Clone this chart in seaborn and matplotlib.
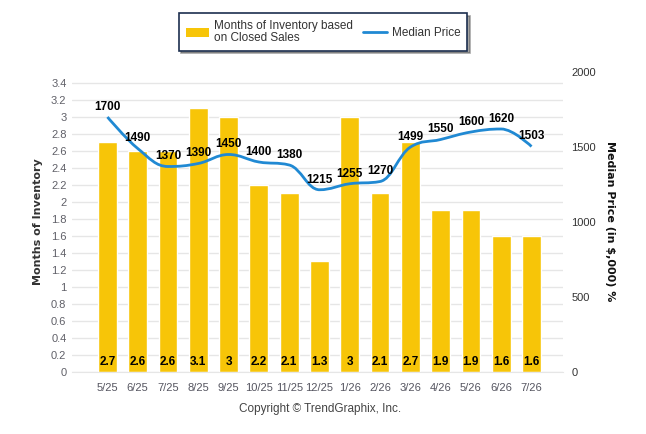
import numpy as np
import pandas as pd
import seaborn as sns
from matplotlib import pyplot as plt
from matplotlib.path import Path
from matplotlib.patches import PathPatch, Patch
from matplotlib.lines import Line2D

months = ["5/25", "6/25", "7/25", "8/25", "9/25", "10/25", "11/25", "12/25",
          "1/26", "2/26", "3/26", "4/26", "5/26", "6/26", "7/26"]
inventory = [2.7, 2.6, 2.6, 3.1, 3.0, 2.2, 2.1, 1.3, 3.0, 2.1, 2.7, 1.9, 1.9, 1.6, 1.6]
median_price = [1700, 1490, 1370, 1390, 1450, 1400, 1380, 1215, 1255, 1270,
                1499, 1550, 1600, 1620, 1503]
left_ticks = [0, 0.2, 0.4, 0.6, 0.8, 1, 1.2, 1.4, 1.6, 1.8, 2, 2.2, 2.4, 2.6, 2.8, 3, 3.2, 3.4]
right_ticks = [0, 500, 1000, 1500, 2000]

BAR = "#F7C508"
LINE = "#2089D3"
NARROW = ["Liberation Sans Narrow", "Liberation Sans", "DejaVu Sans"]
ARIAL = ["Liberation Sans", "DejaVu Sans"]


def fmt(v):
    return "{:g}".format(v)


def spline_path(xs, ys):
    # smooth curve through the points, same control point rule as highcharts
    n = len(xs)
    lc = [None] * n
    rc = [None] * n
    s, d = 1.5, 2.5
    for i in range(1, n - 1):
        x, y = xs[i], ys[i]
        px, py = xs[i - 1], ys[i - 1]
        nx, ny = xs[i + 1], ys[i + 1]
        lcx, lcy = (s * x + px) / d, (s * y + py) / d
        rcx, rcy = (s * x + nx) / d, (s * y + ny) / d
        corr = ((rcy - lcy) * (rcx - x)) / (rcx - lcx) + y - rcy
        lcy += corr
        rcy += corr
        if lcy > py and lcy > y:
            lcy = max(py, y)
            rcy = 2 * y - lcy
        elif lcy < py and lcy < y:
            lcy = min(py, y)
            rcy = 2 * y - lcy
        if rcy > ny and rcy > y:
            rcy = max(ny, y)
            lcy = 2 * y - rcy
        elif rcy < ny and rcy < y:
            rcy = min(ny, y)
            lcy = 2 * y - rcy
        lc[i] = (lcx, lcy)
        rc[i] = (rcx, rcy)
    verts = [(xs[0], ys[0])]
    codes = [Path.MOVETO]
    for i in range(1, n):
        verts += [rc[i - 1] or (xs[i - 1], ys[i - 1]), lc[i] or (xs[i], ys[i]), (xs[i], ys[i])]
        codes += [Path.CURVE4] * 3
    return Path(verts, codes)


df = pd.DataFrame({"month": months, "inventory": inventory, "price": median_price})
xpos = np.arange(len(months))

sns.set_style("white")
fig = plt.figure(figsize=(6.46, 4.34), dpi=100)
ax = fig.add_axes([72 / 646, 62 / 434, 491 / 646, 300 / 434])

sns.barplot(data=df, x="month", y="inventory", color=BAR, saturation=1,
            width=0.62, ax=ax, zorder=2)
ax.set_xlim(-1.17, 15.04)
ax.set_ylim(0, 3.525)
ax.set_yticks(left_ticks)
ax.set_yticklabels([fmt(t) for t in left_ticks], family=NARROW, fontsize=8, color="#606068")
ax.set_xticks(xpos)
ax.set_xticklabels(months, family=NARROW, fontsize=8, color="#555560")
ax.tick_params(axis="y", length=0, pad=4)
ax.tick_params(axis="x", length=3, width=0.8, color="#dddddd", pad=5)
ax.grid(axis="y", color="#e6e6e6", linewidth=1, zorder=0)
ax.set_axisbelow(True)
ax.set_xlabel("")
ax.set_ylabel("")
for sp in ["top", "right", "left"]:
    ax.spines[sp].set_visible(False)
ax.spines["bottom"].set_color("#e6e6e6")

for x, v in zip(xpos, inventory):
    ax.text(x, 0.12, fmt(v), ha="center", va="center", fontsize=8.5,
            fontweight="bold", family=ARIAL, color="black", zorder=5)

ax2 = ax.twinx()
ax2.set_ylim(0, 2000)
ax2.set_yticks(right_ticks)
ax2.set_yticklabels([str(t) for t in right_ticks], family=NARROW, fontsize=8, color="#333333")
ax2.tick_params(axis="y", length=0, pad=6)
for sp in ax2.spines.values():
    sp.set_visible(False)
ax2.add_patch(PathPatch(spline_path(list(xpos), median_price), facecolor="none",
                        edgecolor=LINE, lw=2, zorder=3))
for x, v in zip(xpos, median_price):
    ax2.annotate(str(v), (x, v), xytext=(0, 3), textcoords="offset points",
                 ha="center", va="bottom", fontsize=8.5, fontweight="bold",
                 family=ARIAL, color="black", zorder=6)

fig.text(38 / 646, 1 - 222 / 434, "Months of Inventory", rotation=90, ha="center",
         va="center", fontsize=8, fontweight="bold", color="#333333")
fig.text(610 / 646, 1 - 221 / 434, "Median Price (in $,000) %", rotation=-90,
         ha="center", va="center", fontsize=8, fontweight="bold", color="#111111")
fig.text(320 / 646, 1 - 409 / 434, "Copyright \u00a9 TrendGraphix, Inc.", ha="center",
         va="center", fontsize=8.5, family=NARROW, color="#444444")

handles = [Patch(facecolor=BAR, edgecolor="none"), Line2D([], [], color=LINE, lw=2)]
leg = fig.legend(handles, ["Months of Inventory based\non Closed Sales", "Median Price"],
                 loc="center", bbox_to_anchor=(323 / 646, 1 - 32 / 434), ncol=2,
                 frameon=True, fancybox=False, shadow=True, handlelength=2.0,
                 handleheight=0.8, handletextpad=0.4, columnspacing=0.9,
                 borderpad=0.6, prop={"family": NARROW, "size": 8.5})
leg.get_frame().set_edgecolor("#1c2f4f")
leg.get_frame().set_linewidth(1.2)
for t in leg.get_texts():
    t.set_color("#333333")
    t.set_linespacing(0.9)

fig.savefig("out.png", dpi=100)
